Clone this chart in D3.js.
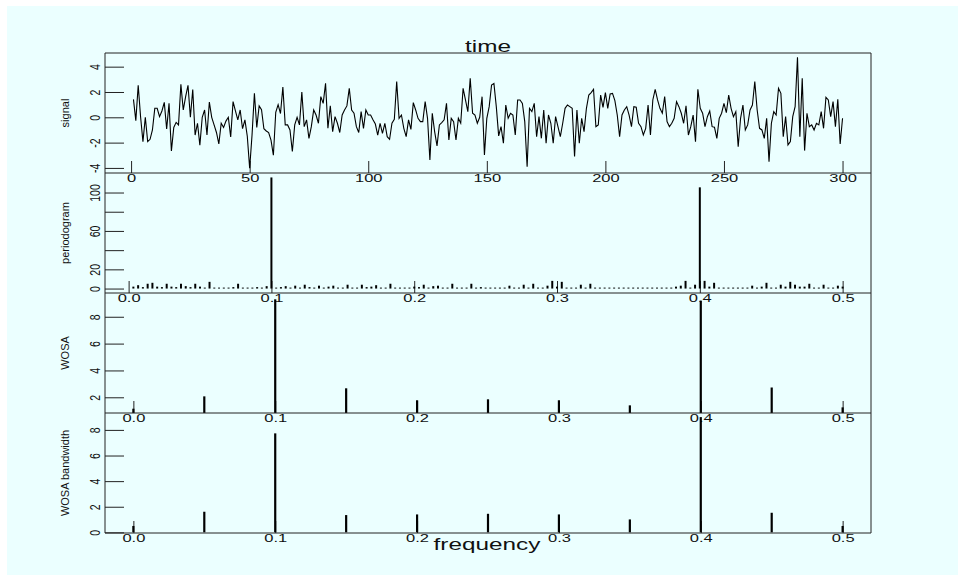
<!DOCTYPE html>
<html>
<head>
<meta charset="utf-8">
<script src="https://cdn.jsdelivr.net/npm/d3@7"></script>
<style>
    body { margin: 0; background: #ffffff; }
    svg text { font-family: "Liberation Sans", Arial, sans-serif; fill: #111; }
</style>
</head>
<body>
<div id="chart"></div>
<script>
// signal, t = 1..300
const signal = [
    1.42, -0.26, 2.53, 0.05, -1.92, 0, -1.92, -1.74, -1.0, 0.71,
    0.71, 0.05, 0.5, 1.18, -0.92, 1.1, -2.66, -0.8, -0.4, -0.6,
    2.6, 0.58, 1.63, 2.53, 0, 2.2, -1.4, -0.47, -2.2, 0,
    0.58, -1.4, 1.2, 0, -0.6, -1.2, -2.1, -0.47, -0.8, -0.3,
    0, -1.55, 1.24, 0.5, -0.2, 0.58, -0.9, -0.2, -1.5, -4.03,
    -1.4, 1.9, -0.8, 0.9, 0.6, -0.9, -1.08, -1.2, -1.8, -3.0,
    0.4, 1.0, 0.3, 2.4, -0.6, -0.6, -1.0, -2.7, -0.6, 0,
    -0.6, 2.0, -0.74, -0.2, -1.66, -0.74, 0.58, 0.18, -0.47, 1.63,
    1.1, 2.68, -0.87, 0.9, -1.13, 0.05, -0.47, -1.2, 0.18, 0.58,
    0.9, 2.29, 0.58, 0.32, -0.74, -1.2, 0.45, -0.87, 0.58, 0.18,
    0.18, -0.2, -0.53, -1.4, -0.47, -1.26, -0.47, -1.53, -1.74, -0.47,
    -0.16, 2.82, -0.08, 0.18, -0.87, -1.53, -0.2, -0.95, 1.16, 0.58,
    -0.08, -0.34, -0.34, 1.24, -0.08, -3.37, 0.32, -1.13, -2.26, -0.6,
    -0.42, -0.2, 1.1, -1.79, -0.08, -0.34, -1.79, -0.08, -0.47, 2.29,
    1.37, 0.45, 3.08, 0.32, 0.18, -0.47, 0, 1.63, -2.97, -0.08,
    0.84, 2.55, 2.68, 0.84, -1.47, -0.74, -2.05, 0.97, -0.08, 0.32,
    0.18, -1.4, 1.37, 1.37, 1.1, -0.34, -3.9, 0.71, 0.45, 1.1,
    -1.53, 0.05, -1.66, 0.58, -2.05, 0.18, -0.47, -2.05, 0.05, -0.74,
    -1.53, -0.47, 0.71, 0.97, 0.84, 0.71, -3.1, 0.58, -2.05, -0.08,
    -1.13, 0.71, 1.76, 1.95, 2.21, -0.74, -0.6, 1.76, 0.79, 1.95,
    0.71, 1.84, 1.89, 1.32, 0.18, -1.53, 0.18, 0.58, 0.84, 0.18,
    -0.74, 0.84, 0.79, -0.47, -0.74, -1.4, -0.87, 0.97, -1.4, 1.37,
    2.21, 1.37, 0.71, 0.32, 1.63, -0.34, -0.74, -0.47, -0.08, 1.24,
    0.84, 0.32, -0.47, 0.9, -1.4, -0.74, 0.18, -1.92, 2.21, 0.71,
    0.32, -0.74, 0.05, 0.5, -0.74, -0.79, -1.66, -0.08, 0.32, 1.1,
    0.37, 1.76, 0.71, 0.05, 0.45, -2.32, -0.08, 0.97, -1.0, -0.6,
    0.58, 0.97, 2.82, 0.58, -0.87, -1.0, -1.66, -0.08, -3.5, -0.47,
    0.45, 0.18, 2.29, 1.89, -1.53, 0.05, -2.18, -1.92, 0.05, 0.84,
    4.74, -1.53, 3.08, -2.63, 0.32, -0.74, -0.6, -1.0, -0.47, -0.6,
    0.45, -0.87, 1.58, 1.37, 0.05, 1.24, -0.74, 1.42, -2.1, -0.08
];
const timeTicks = [0, 50, 100, 150, 200, 250, 300];
const signalTicks = [-4, -2, 0, 2, 4];

// periodogram at k/300, k = 1..150
const periodogram = [
    2, 3.5, 1.5, 5, 6, 2, 1.5, 5, 2, 1.5,
    5, 2.5, 1.5, 5, 2, 1, 7, 1, 1, 1,
    1, 1.5, 5, 1, 1, 1, 1.5, 1, 2.5, 115.7,
    1, 1.5, 2.5, 1, 3, 1, 4, 1.5, 1, 3,
    1, 2, 3, 1, 1, 4, 1, 1, 4, 1.5,
    2, 3.5, 1, 1, 5, 1, 1, 1, 1, 2,
    1.5, 4, 1, 2.5, 3, 1, 1, 5, 1, 1,
    1, 5, 1, 1.5, 1, 1, 1, 1, 1, 3,
    1, 1, 4, 1, 5, 1, 1, 3, 8, 2,
    7, 1, 1, 1, 4, 1, 5, 1, 1, 1,
    1, 1, 1, 1, 1, 1, 1, 1, 1, 1,
    1, 1, 1, 1, 2, 3, 8, 1, 4, 105.4,
    8, 2, 6, 1, 1, 1, 1, 1, 1, 1,
    3, 1, 2, 6, 1, 1, 4, 2, 7, 4,
    2, 2, 5, 1, 1, 4, 1, 1, 3, 2
];
const periodTicks = [0, 20, 40, 60, 80, 100];
const periodLabels = [0, 20, 60, 100];

const freqTicks = [0, 0.1, 0.2, 0.3, 0.4, 0.5];
const wosaFreq = [0, 0.05, 0.1, 0.15, 0.2, 0.25, 0.3, 0.35, 0.4, 0.45, 0.5];
const wosa = [1.15, 2.07, 9.3, 2.67, 1.78, 1.85, 1.78, 1.4, 9.2, 2.73, 1.25];
const wosaTicks = [2, 4, 6, 8];
const wosaBandwidth = [0.5, 1.61, 7.73, 1.35, 1.4, 1.45, 1.4, 1.01, 9.0, 1.53, 0.5];
const bandwidthTicks = [0, 2, 4, 6, 8];

const W = 958, H = 576;
const left = 105, right = 871;
const panels = [
    { top: 53, bottom: 173, title: "signal" },
    { top: 173, bottom: 293, title: "periodogram" },
    { top: 293, bottom: 413, title: "WOSA" },
    { top: 413, bottom: 533, title: "WOSA bandwidth" }
];

const svg = d3.select("#chart").append("svg")
    .attr("width", W)
    .attr("height", H);

svg.append("rect")
    .attr("x", 7).attr("y", 6)
    .attr("width", W - 7).attr("height", 569)
    .attr("fill", "#ebffff");

// x scales (S-style 4% padding)
const xTime = d3.scaleLinear().domain([-11, 312]).range([left, right]);
const f0 = 1 / 300, fr = 0.5 - f0;
const xPer = d3.scaleLinear().domain([f0 - 0.04 * fr, 0.5 + 0.04 * fr]).range([left, right]);
const xWosa = d3.scaleLinear().domain([-0.02, 0.52]).range([left, right]);

// y scales
const ySig = d3.scaleLinear().domain([-4.40, 5.08]).range([panels[0].bottom, panels[0].top]);
const yPer = d3.scaleLinear().domain([-4.63, 120.33]).range([panels[1].bottom, panels[1].top]);
const yWosa = d3.scaleLinear().domain([0.83, 9.77]).range([panels[2].bottom, panels[2].top]).clamp(true);
const yBw = d3.scaleLinear().domain([-0.05, 9.32]).range([panels[3].bottom, panels[3].top]);

function drawAxes(p, x, xTicks, xFmt, y, yTicks, yFmt) {
    const xg = svg.append("g")
        .attr("transform", `translate(0,${p.bottom})`)
        .call(d3.axisBottom(x).tickValues(xTicks).tickSize(-12).tickSizeOuter(0).tickFormat(xFmt));
    xg.select(".domain").remove();
    xg.selectAll("line").attr("stroke", "#222");
    xg.selectAll("text")
        .attr("y", 9).attr("dy", 0)
        .attr("transform", "scale(1.65,1)")
        .style("font-size", "10px");

    const yg = svg.append("g")
        .attr("transform", `translate(${left},0)`)
        .call(d3.axisLeft(y).tickValues(yTicks).tickSize(-19).tickSizeOuter(0).tickFormat(yFmt));
    yg.select(".domain").remove();
    yg.selectAll("line").attr("stroke", "#222");
    // rotated labels, widened across the page like the S device text
    yg.selectAll("text")
        .attr("x", 0).attr("y", -3.6).attr("dy", 0)
        .attr("text-anchor", "middle")
        .attr("transform", "scale(1.4,1) rotate(-90)")
        .style("font-size", "10.5px");
    yg.attr("font-family", null).attr("font-size", null);
    xg.attr("font-family", null).attr("font-size", null);

    svg.append("text")
        .attr("transform", `translate(69,${(p.top + p.bottom) / 2}) rotate(-90)`)
        .attr("text-anchor", "middle")
        .style("font-size", "11px")
        .text(p.title);
}

const fmt1 = d3.format(".1f");
drawAxes(panels[0], xTime, timeTicks, d3.format("d"), ySig, signalTicks, d => d);
drawAxes(panels[1], xPer, freqTicks, fmt1, yPer, periodTicks, d => periodLabels.includes(d) ? d : "");
drawAxes(panels[2], xWosa, freqTicks, fmt1, yWosa, wosaTicks, d => d);
drawAxes(panels[3], xWosa, freqTicks, fmt1, yBw, bandwidthTicks, d => d);

// signal line
svg.append("path")
    .datum(signal)
    .attr("fill", "none")
    .attr("stroke", "#000")
    .attr("stroke-width", 1.1)
    .attr("d", d3.line().x((d, i) => xTime(i + 1)).y(d => ySig(d)));

// bars
function drawBars(freqs, values, x, y, width) {
    svg.append("g").selectAll("line")
        .data(values)
        .join("line")
        .attr("x1", (d, i) => x(freqs[i]))
        .attr("x2", (d, i) => x(freqs[i]))
        .attr("y1", y(0))
        .attr("y2", d => y(d))
        .attr("stroke", "#000")
        .attr("stroke-width", width);
}
drawBars(periodogram.map((d, i) => (i + 1) / 300), periodogram, xPer, yPer, 2);
drawBars(wosaFreq, wosa, xWosa, yWosa, 2.2);
drawBars(wosaFreq, wosaBandwidth, xWosa, yBw, 2.2);

// frames
const frame = svg.append("g").attr("stroke", "#222").attr("stroke-width", 1);
frame.append("line").attr("x1", left).attr("x2", right).attr("y1", panels[0].top).attr("y2", panels[0].top);
frame.append("line").attr("x1", left).attr("x2", left).attr("y1", panels[0].top).attr("y2", panels[3].bottom);
frame.append("line").attr("x1", right).attr("x2", right).attr("y1", panels[0].top).attr("y2", panels[3].bottom);
frame.selectAll("line.bottom")
    .data(panels)
    .join("line")
    .attr("class", "bottom")
    .attr("x1", left).attr("x2", right)
    .attr("y1", d => d.bottom).attr("y2", d => d.bottom);

// titles
svg.append("text")
    .attr("transform", `translate(488,51.5) scale(1.52,1)`)
    .attr("text-anchor", "middle")
    .style("font-size", "16px")
    .text("time");
svg.append("text")
    .attr("transform", `translate(487,549.5) scale(1.52,1)`)
    .attr("text-anchor", "middle")
    .style("font-size", "16px")
    .text("frequency");
</script>
</body>
</html>
